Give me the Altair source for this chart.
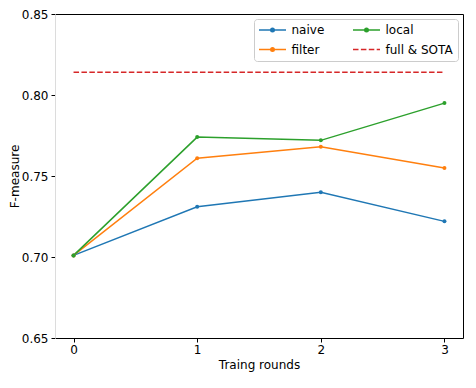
import altair as alt
import pandas as pd

rounds = [0, 1, 2, 3]
naive = [0.701, 0.731, 0.740, 0.722]
filt = [0.701, 0.761, 0.768, 0.755]
local = [0.701, 0.774, 0.772, 0.795]
sota = [0.814, 0.814, 0.814, 0.814]

series_names = ["naive", "filter", "local", "full & SOTA"]
colors = ["#1f77b4", "#ff7f0e", "#2ca02c", "#d62728"]

x_ticks = [0, 1, 2, 3]
y_ticks = [0.65, 0.70, 0.75, 0.80, 0.85]

rows = []
for name, vals in zip(series_names, [naive, filt, local, sota]):
    for r, v in zip(rounds, vals):
        rows.append({"series": name, "round": r, "value": v})
df = pd.DataFrame(rows)

FONT = "DejaVu Sans"
xscale = alt.Scale(domain=[-0.15, 3.15], nice=False, zero=False)
yscale = alt.Scale(domain=[0.65, 0.85], nice=False, zero=False)

dot_path = "M-2.7,0H2.7M-0.35,0A0.35,0.35,0,1,0,0.35,0A0.35,0.35,0,1,0,-0.35,0"
line_path = "M-2.7,0H2.7"

legend = alt.Legend(
    title=None, orient="top-right", offset=5, columns=2,
    symbolType={"expr": f"datum.value === 'full & SOTA' ? '{line_path}' : '{dot_path}'"},
    symbolDash={"expr": "datum.value === 'full & SOTA' ? [5.5, 2.4] : []"},
    symbolFillColor={"expr": "scale('color', datum.value)"},
    symbolSize=100, symbolStrokeWidth=1.5,
    symbolOffset=7.5, labelOffset=13, columnPadding=25, rowPadding=7.5,
    padding=5, strokeColor="#cccccc", cornerRadius=3,
    fillColor="rgba(255,255,255,0.8)", labelFontSize=12, labelFont=FONT,
    labelColor="black",
)

color = alt.Color("series:N", scale=alt.Scale(domain=series_names, range=colors), legend=legend)

base = alt.Chart(df)

lines = base.transform_filter("datum.series !== 'full & SOTA'").mark_line(
    strokeWidth=1.5, point=alt.OverlayMarkDef(filled=True, size=16)
).encode(
    x=alt.X("round:Q", scale=xscale, title="Traing rounds",
            axis=alt.Axis(values=x_ticks, format="d", orient="bottom", titlePadding=4)),
    y=alt.Y("value:Q", scale=yscale, title="F-measure",
            axis=alt.Axis(values=y_ticks, format=".2f", orient="left", domainColor="#dcdcdc",
                          labelPadding=3, titlePadding=0)),
    color=color,
)

sota_line = base.transform_filter("datum.series === 'full & SOTA'").mark_line(
    strokeWidth=1.5, strokeDash=[5.5, 2.4]
).encode(
    x=alt.X("round:Q", scale=xscale, axis=None),
    y=alt.Y("value:Q", scale=yscale, axis=None),
    color=color,
)

frame = base.transform_filter("datum.series === 'full & SOTA'").mark_line(opacity=0).encode(
    x=alt.X("round:Q", scale=xscale, title=None,
            axis=alt.Axis(orient="top", labels=False, ticks=False, domainColor="black")),
    y=alt.Y("value:Q", scale=yscale, title=None,
            axis=alt.Axis(orient="right", labels=False, ticks=False, domainColor="black")),
)

chart = alt.layer(lines, sota_line, frame).resolve_axis(
    x="independent", y="independent"
).properties(
    width=408, height=324, padding={"left": 0, "top": 0, "right": 2, "bottom": 6}
).configure_view(stroke=None).configure_axis(
    labelFont=FONT, titleFont=FONT, labelFontSize=12, titleFontSize=12,
    titleFontWeight="normal", labelColor="black", titleColor="black",
    tickColor="black", domainColor="black", tickSize=4, tickWidth=1,
    domainWidth=1, grid=False,
)

chart.save("out.html", embed_options={"renderer": "svg", "actions": False})
